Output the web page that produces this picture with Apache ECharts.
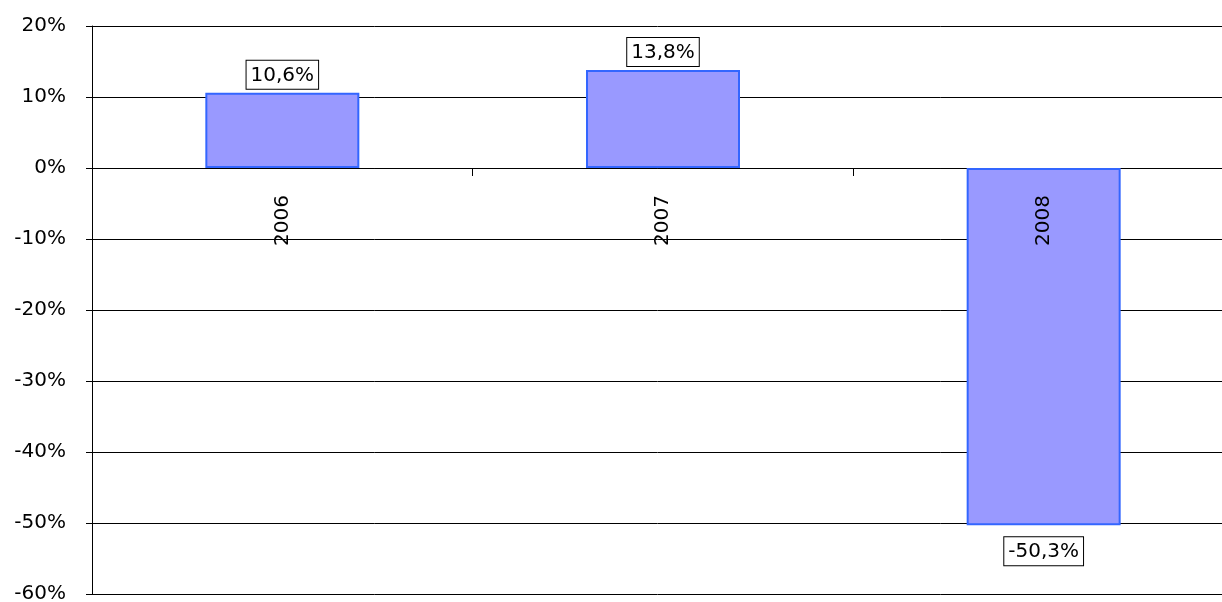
<!DOCTYPE html>
<html><head><meta charset="utf-8">
<script src="https://cdn.jsdelivr.net/npm/echarts@6/dist/echarts.min.js"></script>
<style>html,body{margin:0;padding:0;background:#fff}#c{width:1222px;height:602px}</style>
</head><body><div id="c"></div>
<script>
const categories = ['2006', '2007', '2008'];
const values = [10.6, 13.8, -50.3];
const yTicks = [-60, -50, -40, -30, -20, -10, 0, 10, 20];

const chart = echarts.init(document.getElementById('c'));
chart.setOption({
  animation: false,
  grid: {left: 92, right: -12, top: 26, bottom: 8, outerBoundsMode: 'none', containLabel: false},
  xAxis: {
    type: 'category', data: categories,
    axisLine: {onZero: true, lineStyle: {color: '#000', width: 1}},
    axisTick: {show: true, length: 8, lineStyle: {color: '#000'}},
    axisLabel: {show: false}
  },
  yAxis: {
    type: 'value', min: yTicks[0], max: yTicks[yTicks.length - 1], interval: 10,
    axisLine: {show: true, lineStyle: {color: '#000'}},
    axisTick: {show: true, length: 6, lineStyle: {color: '#000'}},
    splitLine: {lineStyle: {color: '#000', width: 1}},
    axisLabel: {color: '#000', fontSize: 20, fontFamily: 'DejaVu Sans', margin: 26,
      formatter: v => v + '%'}
  },
  series: [{
    type: 'bar', barWidth: 154, z: 2,
    data: values.map(v => ({
      value: v,
      label: {position: v >= 0 ? 'top' : 'bottom', distance: v >= 0 ? 4 : 12}
    })),
    itemStyle: {color: '#9999ff', borderColor: '#3366ff', borderWidth: 2},
    label: {
      show: true, color: '#000', fontSize: 20, fontFamily: 'DejaVu Sans',
      backgroundColor: '#fff', borderColor: '#000', borderWidth: 1, padding: [5, 4, 3, 4],
      formatter: p => p.value.toFixed(1).replace('.', ',') + '%'
    }
  }, {
    type: 'bar', barWidth: 154, barGap: '-100%', z: 3, silent: true,
    data: categories.map(() => 0),
    itemStyle: {color: 'transparent'},
    label: {
      show: true, position: 'bottom', distance: 27, rotate: 90, align: 'right', verticalAlign: 'middle',
      color: '#000', fontSize: 20, fontFamily: 'DejaVu Sans',
      formatter: p => categories[p.dataIndex]
    }
  }]
});
</script></body></html>
